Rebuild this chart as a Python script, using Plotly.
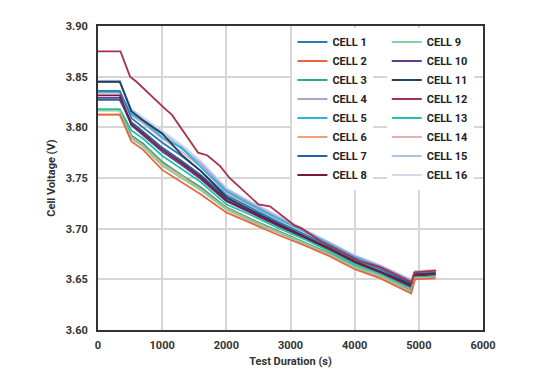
import plotly.graph_objects as go

# ---- data ----
T = [0, 340, 520, 700, 1000, 1300, 1600, 2000, 2400, 2800, 3200, 3600, 4000, 4400, 4880, 4940, 5260]

cell1 = [3.836, 3.836, 3.809, 3.800, 3.785, 3.772, 3.757, 3.733, 3.720, 3.707, 3.695, 3.683, 3.670, 3.660, 3.646, 3.655, 3.656]
cell2 = [3.8125, 3.8125, 3.786, 3.778, 3.758, 3.746, 3.734, 3.716, 3.705, 3.694, 3.684, 3.673, 3.660, 3.651, 3.636, 3.650, 3.651]
cell3 = [3.817, 3.817, 3.792, 3.784, 3.766, 3.753, 3.741, 3.721, 3.709, 3.698, 3.687, 3.676, 3.663, 3.653, 3.639, 3.652, 3.653]
cell4 = [3.845, 3.845, 3.815, 3.806, 3.793, 3.779, 3.764, 3.738, 3.724, 3.711, 3.698, 3.686, 3.673, 3.663, 3.649, 3.657, 3.658]
cell5 = [3.835, 3.835, 3.813, 3.806, 3.790, 3.780, 3.761, 3.737, 3.723, 3.710, 3.698, 3.685, 3.672, 3.662, 3.648, 3.656, 3.657]
cell6 = [3.8125, 3.8125, 3.790, 3.782, 3.764, 3.752, 3.739, 3.720, 3.708, 3.697, 3.686, 3.675, 3.662, 3.653, 3.638, 3.651, 3.652]
cell7 = [3.827, 3.827, 3.805, 3.796, 3.780, 3.767, 3.753, 3.730, 3.717, 3.705, 3.693, 3.680, 3.667, 3.657, 3.644, 3.654, 3.655]
cell8 = [3.8315, 3.8315, 3.803, 3.794, 3.778, 3.765, 3.751, 3.728, 3.716, 3.704, 3.692, 3.680, 3.667, 3.657, 3.643, 3.654, 3.655]
cell9 = [3.8165, 3.8165, 3.789, 3.781, 3.762, 3.750, 3.738, 3.719, 3.707, 3.696, 3.686, 3.674, 3.662, 3.652, 3.637, 3.651, 3.652]
cell10 = [3.829, 3.829, 3.802, 3.792, 3.776, 3.763, 3.749, 3.727, 3.715, 3.703, 3.691, 3.679, 3.666, 3.656, 3.642, 3.654, 3.655]
cell11 = [3.845, 3.845, 3.816, 3.807, 3.794, 3.773, 3.757, 3.731, 3.718, 3.705, 3.693, 3.681, 3.668, 3.658, 3.645, 3.655, 3.656]
cell13 = [3.818, 3.818, 3.797, 3.789, 3.772, 3.759, 3.746, 3.724, 3.713, 3.701, 3.690, 3.678, 3.665, 3.655, 3.641, 3.652, 3.653]
cell14 = [3.834, 3.834, 3.812, 3.804, 3.789, 3.776, 3.761, 3.735, 3.722, 3.709, 3.697, 3.684, 3.671, 3.661, 3.648, 3.657, 3.658]
cell15 = [3.845, 3.845, 3.817, 3.808, 3.795, 3.781, 3.765, 3.739, 3.725, 3.712, 3.699, 3.686, 3.673, 3.663, 3.649, 3.658, 3.659]
cell16 = [3.846, 3.846, 3.818, 3.810, 3.797, 3.783, 3.767, 3.740, 3.726, 3.713, 3.700, 3.687, 3.674, 3.664, 3.650, 3.658, 3.659]

T12 = [0, 350, 500, 600, 1050, 1150, 1560, 1700, 1900, 2050, 2500, 2680, 3070, 3170, 3460, 3770, 4080, 4400, 4890, 4930, 5270]
cell12 = [3.875, 3.875, 3.850, 3.845, 3.818, 3.8125, 3.775, 3.7725, 3.762, 3.750, 3.724, 3.722, 3.703, 3.7005, 3.688, 3.678, 3.668, 3.662, 3.647, 3.657, 3.6585]

names = [f"CELL {i}" for i in range(1, 17)]
colors = ["#2b7bba", "#e8653f", "#2eaa7c", "#b4a0d2", "#2fb4e0", "#f2a07c", "#2066a4", "#7a1838",
          "#82d0a6", "#5e3f8c", "#22405f", "#a8304f", "#27bfb0", "#e2b0b0", "#a8c6e2", "#d8d8ec"]
series = [(T, cell1), (T, cell2), (T, cell3), (T, cell4), (T, cell5), (T, cell6), (T, cell7), (T, cell8),
          (T, cell9), (T, cell10), (T, cell11), (T12, cell12), (T, cell13), (T, cell14), (T, cell15), (T, cell16)]

FONT = "Roboto"
fig = go.Figure()
# draw light ones first so darker ones are on top (legend order kept via legendrank)
draw_order = [15, 14, 3, 13, 4, 0, 6, 10, 9, 7, 12, 2, 5, 8, 1, 11]
for i in draw_order:
    x, y = series[i]
    fig.add_trace(go.Scatter(
        x=x, y=y, mode="lines", name=names[i],
        line=dict(color=colors[i], width=1.8),
        legend="legend" if i < 8 else "legend2",
        legendrank=i + 1,
    ))

axis_common = dict(
    showline=True, mirror=True, linecolor="#333333", linewidth=2,
    showgrid=True, gridcolor="#d6d6d6", gridwidth=1.5,
    zeroline=False, ticks="",
    tickfont=dict(family=FONT, size=11, color="#333333", weight="bold"),
)
fig.update_xaxes(range=[0, 6000], dtick=1000, tick0=0, ticklabelstandoff=4,
                 title=dict(text="Test Duration (s)", standoff=6,
                            font=dict(family=FONT, size=11, color="#333333", weight="bold")),
                 **axis_common)
fig.update_yaxes(range=[3.60, 3.90], dtick=0.05, tick0=3.60, tickformat=".2f", ticklabelstandoff=6,
                 title=dict(text="Cell Voltage (V)", standoff=8,
                            font=dict(family=FONT, size=11, color="#333333", weight="bold")),
                 **axis_common)

legend_common = dict(
    bgcolor="white", borderwidth=0, yanchor="top", y=0.995, xanchor="left",
    font=dict(family=FONT, size=11, color="#222222", weight="bold"),
    tracegroupgap=0, itemwidth=30, traceorder="normal",
)
fig.update_layout(
    width=540, height=373,
    margin=dict(l=90, r=65, t=14, b=51),
    paper_bgcolor="white", plot_bgcolor="white",
    showlegend=True,
    legend=dict(x=0.505, **legend_common),
    legend2=dict(x=0.75, **legend_common),
)

fig.write_html("out.html")
